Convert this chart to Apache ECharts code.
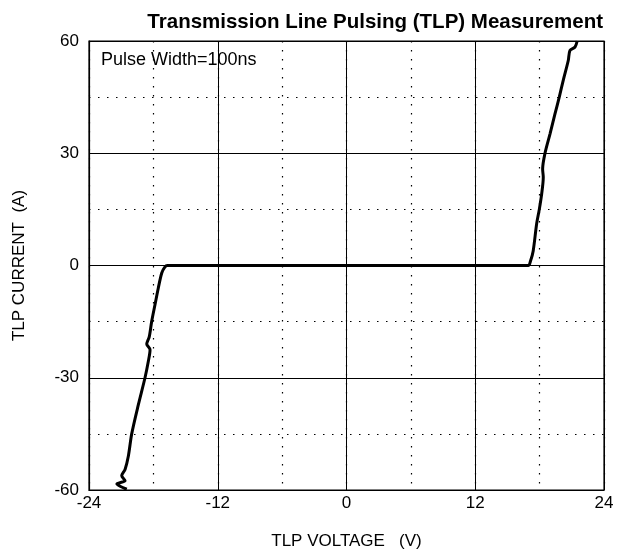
<!DOCTYPE html>
<html><head><meta charset="utf-8">
<script src="https://cdn.jsdelivr.net/npm/echarts@6/dist/echarts.min.js"></script>
<style>html,body{margin:0;padding:0;background:#fff}#c{width:627px;height:553px}</style>
</head><body><div id="c"></div>
<script>
const titleText = 'Transmission Line Pulsing (TLP) Measurement';
const xName = 'TLP VOLTAGE   (V)';
const yName = 'TLP CURRENT  (A)';
const note = 'Pulse Width=100ns';
// TLP voltage (V) and current (A)
const voltage = [-20.48,-21.1,-21.4,-20.64,-20.95,-20.64,-20.33,-20.02,-19.4,-18.78,-18.47,-18.31,-18.62,-18.38,-18.16,-17.85,-17.54,-17.22,-16.95,-16.7,
  0,16.94,17.15,17.4,17.72,17.97,18.19,18.34,18.28,18.5,18.97,19.43,19.83,20.2,20.67,20.83,21.3,21.5];
const current = [-59.8,-59.0,-58.4,-57.5,-56.2,-54.5,-50.9,-45,-37.2,-30,-25.6,-22.5,-21.0,-19.0,-15,-10.5,-6.0,-2.0,-0.5,0,
  0,0,1.2,3.9,11.1,15,19.1,23.6,25.8,30,35.2,40.5,45,49.5,54.8,57.5,58.4,60];
const data = voltage.map((v,i)=>[v,current[i]]);
const F = 'Liberation Sans, Arial, sans-serif';
const chart = echarts.init(document.getElementById('c'));
const dotted = {show:true,lineStyle:{color:'#000',width:1.2,type:[1.5,7.5]}};
const solid = {show:true,lineStyle:{color:'#000',width:1,type:'solid'}};
chart.setOption({
  animation:false,
  title:{text:titleText,right:19,top:7,textStyle:{fontFamily:F,fontSize:20.5,fontWeight:'bold',color:'#000'}},
  grid:{left:89,right:23,top:41,bottom:63,outerBoundsMode:'none',containLabel:false,show:true,borderColor:'#000',borderWidth:1.2,backgroundColor:'transparent'},
  graphic:[{type:'text',left:101,top:51,style:{text:note,font:'18px '+F,fill:'#000'}}],
  xAxis:[
    {type:'value',min:-24,max:24,interval:6,splitLine:dotted,axisLine:{show:false},axisTick:{show:false},axisLabel:{show:false}},
    {type:'value',min:-24,max:24,interval:12,position:'bottom',splitLine:solid,axisLine:{show:true,onZero:false,lineStyle:{color:'#000',width:1.2}},axisTick:{show:false},
     axisLabel:{fontFamily:F,fontSize:17,color:'#000',margin:5},
     name:xName,nameLocation:'middle',nameGap:43,nameTextStyle:{fontFamily:F,fontSize:17,color:'#000'}}
  ],
  yAxis:[
    {type:'value',min:-60,max:60,interval:15,splitLine:dotted,axisLine:{show:false},axisTick:{show:false},axisLabel:{show:false}},
    {type:'value',min:-60,max:60,interval:30,position:'left',splitLine:solid,axisLine:{show:true,onZero:false,lineStyle:{color:'#000',width:1.2}},axisTick:{show:false},
     axisLabel:{fontFamily:F,fontSize:17,color:'#000',margin:10},
     name:yName,nameLocation:'middle',nameGap:61,nameTextStyle:{fontFamily:F,fontSize:17,color:'#000'}}
  ],
  series:[{type:'line',xAxisIndex:1,yAxisIndex:1,data:data,showSymbol:false,smooth:0.3,lineStyle:{color:'#000',width:3}}]
});
</script></body></html>
